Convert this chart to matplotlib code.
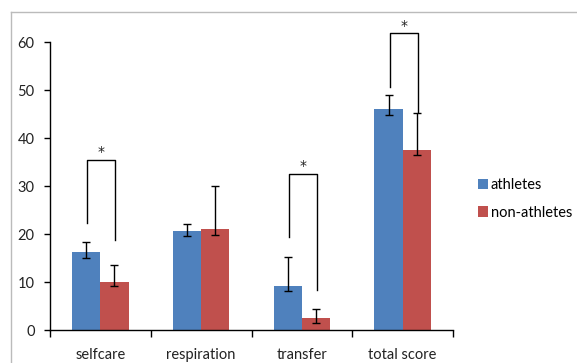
import matplotlib
matplotlib.use("Agg")
import matplotlib.pyplot as plt
import numpy as np
from matplotlib.lines import Line2D

categories = ["selfcare", "respiration", "transfer", "total score"]
athletes = [16.2, 20.7, 9.2, 46.0]
athletes_err_low = [1.1, 1.1, 1.0, 1.2]
athletes_err_high = [2.2, 1.4, 6.1, 3.0]
non_athletes = [10.0, 21.0, 2.4, 37.4]
non_athletes_err_low = [0.8, 1.2, 0.9, 0.9]
non_athletes_err_high = [3.5, 8.9, 1.9, 7.9]
series_names = ["athletes", "non-athletes"]
yticks = [0, 10, 20, 30, 40, 50, 60]

# significance brackets: (category index, left foot, right foot, top)
brackets_cat = [0, 2, 3]
brackets_left = [22.2, 19.3, 50.6]
brackets_right = [18.7, 8.3, 45.5]
brackets_top = [35.5, 32.6, 61.8]

plt.rcParams['font.family'] = ['Lato', 'DejaVu Sans']

W, H = 577, 363
fig = plt.figure(figsize=(W / 100, H / 100), dpi=100)
ax = fig.add_axes([50 / W, (H - 330) / H, (453 - 50) / W, (330 - 42) / H])

blue = "#4F81BD"
red = "#C0504D"
bw = 0.28
x = np.arange(len(categories))

ax.bar(x - bw / 2, athletes, bw, color=blue, label=series_names[0], zorder=2)
ax.bar(x + bw / 2, non_athletes, bw, color=red, label=series_names[1], zorder=2)
ax.errorbar(x - bw / 2, athletes, yerr=[athletes_err_low, athletes_err_high],
            fmt='none', ecolor='black', elinewidth=1, capsize=3, capthick=1, zorder=3)
ax.errorbar(x + bw / 2, non_athletes, yerr=[non_athletes_err_low, non_athletes_err_high],
            fmt='none', ecolor='black', elinewidth=1, capsize=3, capthick=1, zorder=3)

for c, l, r, t in zip(brackets_cat, brackets_left, brackets_right, brackets_top):
    xl = c - bw / 2 + 0.01
    xr = c + bw / 2 + 0.01
    ax.plot([xl, xl, xr, xr], [l, t, t, r], color='black', lw=1, clip_on=False, zorder=4)
    ax.text((xl + xr) / 2, t + 1.6, "*", ha='center', va='center', fontsize=10,
            family='DejaVu Sans', color='#222222', clip_on=False)

ax.set_xlim(-0.5, 3.5)
ax.set_ylim(0, 60)
ax.set_yticks(yticks)
ax.set_yticklabels([str(v) for v in yticks])
ax.set_xticks(x)
ax.set_xticklabels(categories)
ax.set_xticks(np.arange(-0.5, 4.0, 1.0), minor=True)
ax.tick_params(axis='x', which='major', length=0, pad=13, labelsize=10.5, colors='#222222')
ax.tick_params(axis='x', which='minor', length=5, width=1, direction='out')
ax.tick_params(axis='y', length=4, width=1, direction='out', pad=7, labelsize=10.5, labelcolor='#222222')
for s in ['top', 'right']:
    ax.spines[s].set_visible(False)
for s in ['left', 'bottom']:
    ax.spines[s].set_linewidth(1)

leg = fig.legend(loc='upper left', bbox_to_anchor=(472 / W, 1 - 172 / H), frameon=False,
                 fontsize=10.5, handlelength=0.7, handleheight=0.7, handletextpad=0.2,
                 labelspacing=0.95, borderaxespad=0)

# chart border (top and left)
fig.add_artist(Line2D([10.5 / W, 1], [1 - 12 / H, 1 - 12 / H], color='#BBBBBB', lw=1, transform=fig.transFigure))
fig.add_artist(Line2D([10.5 / W, 10.5 / W], [0, 1 - 12 / H], color='#BBBBBB', lw=1, transform=fig.transFigure))

fig.savefig("out.png", dpi=100)
